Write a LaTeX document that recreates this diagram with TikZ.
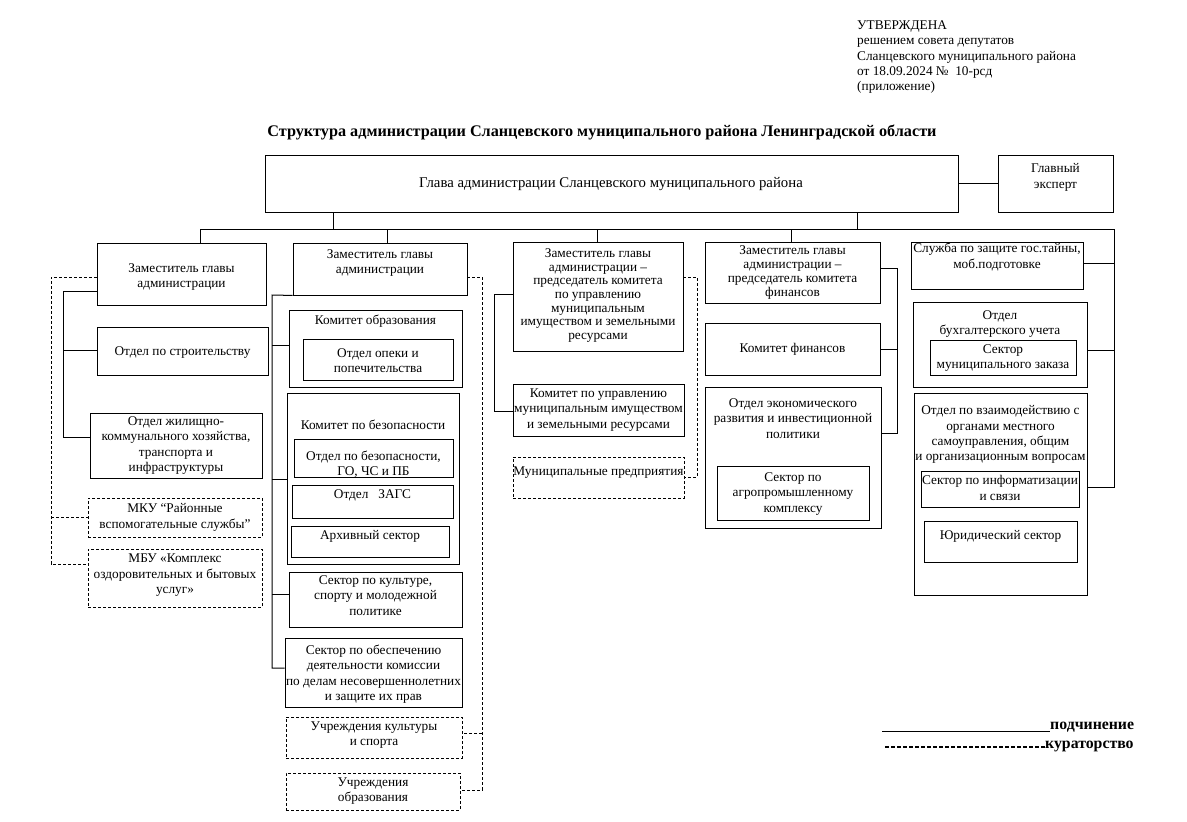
\documentclass[tikz,border=0pt]{standalone}
\usepackage{fontspec}
\setmainfont{Liberation Serif}
\usetikzlibrary{fit}
\tikzset{
  box/.style={draw, line width=0.9pt, inner sep=0pt},
  dbox/.style={box, dash pattern=on 3pt off 2pt},
  txt/.style={font=\fontsize{13.3}{15.3}\selectfont, align=center, inner sep=0pt},
  conn/.style={line width=1pt},
  dconn/.style={line width=1pt, dash pattern=on 3pt off 2pt},
}
\newcommand\bx[6]{\node[#6, fit={(#2,#3) (#4,#5)}] (#1) {};}
\newcommand\tx[3]{\node[txt, anchor=north] (#1t) at ([yshift=-#2pt]#1.north) {#3};}
\newcommand\tc[2]{\node[txt] (#1t) at (#1.center) {#2};}
\begin{document}
\begin{tikzpicture}[x=1pt,y=-1pt]
\useasboundingbox (0,0) rectangle (1187,822);
% header
\node[txt, anchor=north west, align=left, font=\fontsize{13.3}{15.3}\selectfont] (hdr) at (857,20.5)
 {УТВЕРЖДЕНА\\решением совета депутатов\\Сланцевского муниципального района\\от 18.09.2024 №\ \ 10-рсд\\(приложение)};
\node[txt, font=\fontsize{16.2}{18}\selectfont\bfseries] (title) at (602,132)
 {Структура администрации Сланцевского муниципального района Ленинградской области};
% top
\bx{glava}{265}{155}{958}{212}{box}
\node[txt, font=\fontsize{14.8}{16}\selectfont] (glavat) at (611,184) {Глава администрации Сланцевского муниципального района};
\bx{expert}{998}{155}{1113}{212}{box}
\tx{expert}{9}{Главный\\эксперт}
\draw[conn] (glava) -- (expert);
% deputies
\bx{d1}{97}{243}{266}{305}{box}
\node[txt] (d1t) at ([yshift=-3pt]d1.center) {Заместитель главы\\администрации};
\bx{d2}{293}{243}{467}{295}{box}
\tx{d2}{6.5}{Заместитель главы\\администрации}
\bx{d3}{513}{242}{683}{351}{box}
\node[txt, font=\fontsize{13.3}{13.7}\selectfont] (d3t) at ([yshift=1pt]d3.center) {Заместитель главы\\администрации –\\председатель комитета\\по управлению\\муниципальным\\имуществом и земельными\\ресурсами};
\bx{d4}{705}{242}{880}{303}{box}
\node[txt, font=\fontsize{13.3}{14.3}\selectfont] (d4t) at (d4.center) {Заместитель главы\\администрации –\\председатель комитета\\финансов};
\bx{slu}{911}{242}{1083}{289}{box}
\tx{slu}{1.5}{Служба по защите гос.тайны,\\моб.подготовке};
% bus
\coordinate (busL) at (200,229);
\coordinate (busR) at (1114,229);
\coordinate (gs1) at (333,229);
\coordinate (gs2) at (857,229);
\coordinate (bus2) at (387,229);
\coordinate (bus3) at (597,229);
\coordinate (bus4) at (791,229);
\draw[conn] (busL|-d1.north) -- (busL) -- (busR);
\draw[conn] (gs1|-glava.south) -- (gs1);
\draw[conn] (gs2|-glava.south) -- (gs2);
\draw[conn] (bus2) -- (bus2|-d2.north);
\draw[conn] (bus3) -- (bus3|-d3.north);
\draw[conn] (bus4) -- (bus4|-d4.north);
% column 1
\bx{stroy}{97}{327}{268}{375}{box}
\node[txt] (stroyt) at ([yshift=-1.5pt]stroy.center) {Отдел по строительству};
\bx{zhkh}{90}{413}{262}{478}{box}
\tc{zhkh}{Отдел жилищно-\\коммунального хозяйства,\\транспорта и\\инфраструктуры}
\bx{mku}{88}{498}{262}{537}{dbox}
\tc{mku}{МКУ “Районные\\вспомогательные службы”}
\bx{mbu}{88}{549}{262}{607}{dbox}
\tx{mbu}{5.5}{МБУ «Комплекс\\оздоровительных и бытовых\\услуг»}
\coordinate (a1) at (63,291);
\coordinate (a2) at (63,350);
\coordinate (a3) at (63,437);
\draw[conn] (d1.west|-a1) -- (a1) -- (a3) -- (zhkh.west|-a3);
\draw[conn] (a2) -- (stroy.west|-a2);
\coordinate (b1) at (51,277);
\coordinate (b2) at (51,517);
\coordinate (b3) at (51,564);
\draw[dconn] (d1.west|-b1) -- (b1) -- (b3) -- (mbu.west|-b3);
\draw[dconn] (b2) -- (mku.west|-b2);
% column 2
\bx{obr}{289}{310}{462}{387}{box}
\tx{obr}{5}{Комитет образования}
\bx{opeka}{303}{339}{453}{380}{box}
\tx{opeka}{10}{Отдел опеки и\\попечительства}
\bx{bez}{287}{393}{459}{564}{box}
\tx{bez}{27}{Комитет по безопасности}
\bx{otbez}{294}{439}{453}{477}{box}
\tx{otbez}{12}{Отдел по безопасности,\\ГО, ЧС и ПБ}
\bx{zags}{292}{485}{453}{518}{box}
\tx{zags}{5}{Отдел\ \ \ ЗАГС}
\bx{arhiv}{291}{526}{449}{557}{box}
\tx{arhiv}{5}{Архивный сектор}
\bx{kult}{289}{572}{462}{627}{box}
\tx{kult}{4}{Сектор по культуре,\\спорту и молодежной\\политике}
\bx{kdn}{285}{638}{462}{707}{box}
\node[txt] (kdnt) at ([yshift=-1.5pt]kdn.center) {Сектор по обеспечению\\деятельности комиссии\\по делам несовершеннолетних\\и защите их прав};
\bx{uckult}{286}{717}{462}{758}{dbox}
\tx{uckult}{5}{Учреждения культуры\\и спорта}
\bx{ucobr}{286}{773}{460}{810}{dbox}
\tx{ucobr}{5}{Учреждения\\образования}
\coordinate (c0) at (272,295);
\coordinate (c1) at (272,345);
\coordinate (c2) at (272,479);
\coordinate (c3) at (272,594);
\coordinate (c4) at (272,668);
\draw[conn] (d2.south west) -- (c0) -- (c4) -- (kdn.west|-c4);
\draw[conn] (c1) -- (obr.west|-c1);
\draw[conn] (c2) -- (bez.west|-c2);
\draw[conn] (c3) -- (kult.west|-c3);
\coordinate (e1) at (482,277);
\coordinate (e2) at (482,733);
\coordinate (e3) at (482,790);
\draw[dconn] (d2.east|-e1) -- (e1) -- (e3) -- (ucobr.east|-e3);
\draw[dconn] (e2) -- (uckult.east|-e2);
% column 3
\bx{kumi}{513}{384}{684}{436}{box}
\tc{kumi}{Комитет по управлению\\муниципальным имуществом\\и земельными ресурсами}
\bx{mp}{513}{457}{684}{498}{dbox}
\tx{mp}{10}{Муниципальные предприятия}
\coordinate (f1) at (494,294);
\coordinate (f2) at (494,411);
\draw[conn] (d3.west|-f1) -- (f1) -- (f2) -- (kumi.west|-f2);
\coordinate (g1) at (697,277);
\coordinate (g2) at (697,477);
\draw[dconn] (d3.east|-g1) -- (g1) -- (g2) -- (mp.east|-g2);
% column 4
\bx{kfin}{705}{323}{880}{375}{box}
\tc{kfin}{Комитет финансов}
\bx{econ}{705}{387}{881}{528}{box}
\tx{econ}{12}{Отдел экономического\\развития и инвестиционной\\политики}
\bx{agro}{717}{466}{869}{520}{box}
\tx{agro}{7}{Сектор по\\агропромышленному\\комплексу}
\coordinate (h1) at (897,268);
\coordinate (h2) at (897,349);
\coordinate (h3) at (897,433);
\draw[conn] (d4.east|-h1) -- (h1) -- (h3) -- (econ.east|-h3);
\draw[conn] (h2) -- (kfin.east|-h2);
% column 5
\bx{buh}{913}{302}{1087}{387}{box}
\tx{buh}{8.5}{Отдел\\бухгалтерского учета}
\bx{zakaz}{930}{340}{1076}{375}{box}
\tx{zakaz}{5}{Сектор\\муниципального заказа}
\bx{vzaim}{914}{393}{1087}{595}{box}
\tx{vzaim}{13}{Отдел по взаимодействию с\\органами местного\\самоуправления, общим\\и организационным вопросам}
\bx{inf}{921}{471}{1079}{507}{box}
\tx{inf}{5}{Сектор по информатизации\\и связи}
\bx{yur}{924}{521}{1077}{562}{box}
\tx{yur}{10}{Юридический сектор}
\coordinate (r1) at (1114,263);
\coordinate (r2) at (1114,350);
\coordinate (r3) at (1114,487);
\draw[conn] (busR) -- (r3) -- (vzaim.east|-r3);
\draw[conn] (r1) -- (slu.east|-r1);
\draw[conn] (r2) -- (buh.east|-r2);
% legend
\node[txt, anchor=base west, font=\fontsize{15.8}{17}\selectfont\bfseries] (leg1) at (1050,729) {подчинение};
\node[txt, anchor=base west, font=\fontsize{15.8}{17}\selectfont\bfseries] (leg2) at (1045,748) {кураторство};
\coordinate (l1) at (882,731);
\coordinate (l2) at (885,747);
\draw[line width=1pt] (l1) -- (l1-|leg1.west);
\draw[line width=1.3pt, dash pattern=on 4pt off 2pt] (l2) -- (l2-|leg2.west);
\end{tikzpicture}
\end{document}
